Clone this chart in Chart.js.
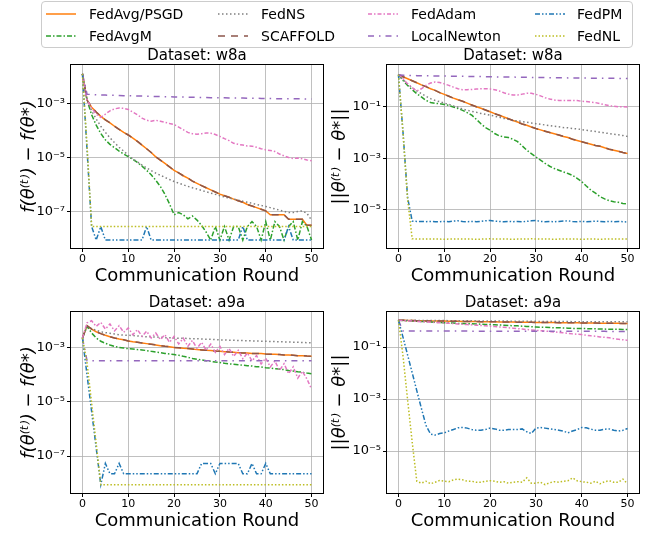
<!DOCTYPE html>
<html>
<head>
<meta charset="utf-8">
<script src="https://cdn.jsdelivr.net/npm/chart.js@4.4.0/dist/chart.umd.min.js"></script>
<style>
html,body{margin:0;padding:0;background:#fff;}
body{width:652px;height:535px;overflow:hidden;position:relative;font-family:"DejaVu Sans",sans-serif;}
canvas{position:absolute;}
#legend{position:absolute;left:41px;top:1px;width:590px;height:45px;border:1px solid #cccccc;border-radius:4px;background:rgba(255,255,255,0.85);z-index:5;}
.lg-text{position:absolute;font-size:14px;line-height:16px;color:#000;white-space:nowrap;}
.lg-line{position:absolute;}
</style>
</head>
<body>
<div id="legend"></div>
<canvas id="c1" width="330" height="250" style="left:0px;top:40px"></canvas>
<canvas id="c2" width="326" height="250" style="left:326px;top:40px"></canvas>
<canvas id="c3" width="330" height="248" style="left:0px;top:287px"></canvas>
<canvas id="c4" width="326" height="248" style="left:326px;top:287px"></canvas>
<script>
// ---------------- data ----------------
const rounds = [0,1,2,3,4,5,6,7,8,9,10,11,12,13,14,15,16,17,18,19,20,21,22,23,24,25,26,27,28,29,30,31,32,33,34,35,36,37,38,39,40,41,42,43,44,45,46,47,48,49,50];
const xTicks = [0,10,20,30,40,50];
const seriesNames = ['FedAvg/PSGD','FedAvgM','FedNS','SCAFFOLD','FedAdam','LocalNewton','FedPM','FedNL'];
const panelTitles = ['Dataset: w8a','Dataset: w8a','Dataset: a9a','Dataset: a9a'];
const xAxisTitle = 'Communication Round';
const lossAxisTitle = 'f(θ⁽ᵗ⁾) − f(θ*)';
const distAxisTitle = '||θ⁽ᵗ⁾ − θ*||';
const lossTickValues = [1e-3,1e-5,1e-7];
const lossTickLabels = ['10⁻³','10⁻⁵','10⁻⁷'];
const distTickValues = [1e-1,1e-3,1e-5];
const distTickLabels = ['10⁻¹','10⁻³','10⁻⁵'];

// Panel 1: w8a, f(theta_t) - f(theta*)
const w8aLoss_FedAvg = [1.3e-2,1.4e-3,7.6e-4,5.0e-4,3.5e-4,2.6e-4,2.0e-4,1.5e-4,1.15e-4,8.9e-5,7.1e-5,
 5.4e-5,4.1e-5,3.0e-5,2.2e-5,1.6e-5,1.1e-5,8.3e-6,6.3e-6,4.7e-6,3.5e-6,
 2.8e-6,2.2e-6,1.8e-6,1.4e-6,1.15e-6,9.5e-7,7.9e-7,6.6e-7,5.5e-7,4.6e-7,
 4.0e-7,3.5e-7,3.0e-7,2.6e-7,2.3e-7,1.9e-7,1.66e-7,1.45e-7,1.26e-7,1.1e-7,
 7.9e-8,7.9e-8,7.9e-8,7.9e-8,5.4e-8,5.4e-8,5.4e-8,5.4e-8,3.2e-8,3.2e-8];
const w8aLoss_FedAvgM = [1.3e-2,1.4e-3,4.0e-4,1.66e-4,8.1e-5,4.7e-5,3.2e-5,2.4e-5,1.8e-5,1.4e-5,1.12e-5,
 8.9e-6,6.8e-6,5.0e-6,3.5e-6,2.4e-6,1.5e-6,8.9e-7,4.5e-7,2.0e-7,7.9e-8,
 9.5e-8,7.9e-8,5.6e-8,7.1e-8,5.0e-8,3.2e-8,1.8e-8,9.1e-9,2.9e-8,9.1e-9,
 2.9e-8,9.1e-9,2.9e-8,2.9e-8,9.1e-9,2.9e-8,4.4e-8,2.9e-8,9.1e-9,4.4e-8,
 9.1e-9,4.4e-8,2.9e-8,9.1e-9,2.9e-8,4.4e-8,9.1e-9,4.4e-8,2.9e-8,9.1e-9];
const w8aLoss_FedNS = [1.3e-2,1.4e-3,5.6e-4,2.8e-4,1.5e-4,8.9e-5,5.6e-5,3.7e-5,2.5e-5,1.8e-5,1.26e-5,
 9.3e-6,7.1e-6,5.5e-6,4.3e-6,3.4e-6,2.75e-6,2.3e-6,1.9e-6,1.6e-6,1.35e-6,
 1.17e-6,1.02e-6,8.9e-7,7.9e-7,7.1e-7,6.3e-7,5.6e-7,5.0e-7,4.5e-7,4.0e-7,
 3.6e-7,3.3e-7,3.0e-7,2.75e-7,2.5e-7,2.3e-7,2.1e-7,1.9e-7,1.74e-7,1.6e-7,
 1.45e-7,1.3e-7,1.17e-7,1.05e-7,9.5e-8,9.5e-8,1.05e-7,1.1e-7,8.9e-8,5.0e-8];
const w8aLoss_SCAFFOLD = [1.3e-2,1.4e-3,7.6e-4,5.0e-4,3.5e-4,2.6e-4,2.0e-4,1.5e-4,1.15e-4,8.9e-5,7.1e-5,
 5.4e-5,4.1e-5,3.0e-5,2.2e-5,1.6e-5,1.1e-5,8.3e-6,6.3e-6,4.7e-6,3.5e-6,
 2.8e-6,2.2e-6,1.8e-6,1.4e-6,1.15e-6,9.5e-7,7.9e-7,6.6e-7,5.5e-7,4.6e-7,
 4.0e-7,3.5e-7,3.0e-7,2.6e-7,2.3e-7,1.9e-7,1.66e-7,1.45e-7,1.26e-7,1.1e-7,
 7.9e-8,7.9e-8,7.9e-8,7.9e-8,5.4e-8,5.4e-8,5.4e-8,5.4e-8,3.2e-8,3.2e-8];
const w8aLoss_FedAdam = [1.3e-2,1.4e-3,7.1e-4,4.2e-4,3.2e-4,4.2e-4,5.6e-4,6.6e-4,7.1e-4,6.9e-4,6.3e-4,
 5.0e-4,4.0e-4,3.0e-4,2.5e-4,2.3e-4,2.5e-4,2.3e-4,2.1e-4,1.9e-4,1.74e-4,
 1.4e-4,1.12e-4,8.9e-5,7.9e-5,7.6e-5,7.9e-5,8.5e-5,8.3e-5,7.4e-5,6.3e-5,
 5.2e-5,4.4e-5,3.5e-5,3.2e-5,3.0e-5,2.8e-5,2.75e-5,2.5e-5,2.2e-5,2.0e-5,
 1.9e-5,1.74e-5,1.4e-5,1.2e-5,1.05e-5,9.5e-6,1.0e-5,9.3e-6,8.5e-6,7.9e-6];
const w8aLoss_LocalNewton = [1.3e-2,2.3e-3,2.25e-3,2.2e-3,2.17e-3,2.14e-3,2.11e-3,2.08e-3,2.06e-3,2.04e-3,2.02e-3,
 2.0e-3,1.98e-3,1.96e-3,1.94e-3,1.92e-3,1.9e-3,1.88e-3,1.86e-3,1.85e-3,1.83e-3,
 1.82e-3,1.8e-3,1.79e-3,1.77e-3,1.76e-3,1.75e-3,1.73e-3,1.72e-3,1.71e-3,1.7e-3,
 1.69e-3,1.68e-3,1.67e-3,1.66e-3,1.65e-3,1.64e-3,1.63e-3,1.62e-3,1.61e-3,1.6e-3,
 1.59e-3,1.58e-3,1.58e-3,1.57e-3,1.56e-3,1.56e-3,1.55e-3,1.55e-3,1.54e-3,1.54e-3];
const w8aLoss_FedPM = [1.3e-2,2.0e-5,2.9e-8,9.1e-9,2.9e-8,9.1e-9,9.1e-9,9.1e-9,9.1e-9,9.1e-9,9.1e-9,
 9.1e-9,9.1e-9,9.1e-9,2.9e-8,9.1e-9,9.1e-9,9.1e-9,9.1e-9,9.1e-9,9.1e-9,
 9.1e-9,9.1e-9,9.1e-9,9.1e-9,9.1e-9,9.1e-9,9.1e-9,9.1e-9,9.1e-9,9.1e-9,
 9.1e-9,9.1e-9,9.1e-9,9.1e-9,2.9e-8,9.1e-9,9.1e-9,9.1e-9,9.1e-9,9.1e-9,
 9.1e-9,9.1e-9,9.1e-9,9.1e-9,2.9e-8,9.1e-9,9.1e-9,9.1e-9,9.1e-9,9.1e-9];
const w8aLoss_FedNL = [1.3e-2,3.0e-5,2.9e-8,2.9e-8,2.9e-8,2.9e-8,2.9e-8,2.9e-8,2.9e-8,2.9e-8,2.9e-8,
 2.9e-8,2.9e-8,2.9e-8,2.9e-8,2.9e-8,2.9e-8,2.9e-8,2.9e-8,2.9e-8,2.9e-8,
 2.9e-8,2.9e-8,2.9e-8,2.9e-8,2.9e-8,2.9e-8,2.9e-8,2.9e-8,2.9e-8,2.9e-8,
 2.9e-8,2.9e-8,2.9e-8,2.9e-8,2.9e-8,2.9e-8,2.9e-8,2.9e-8,2.9e-8,2.9e-8,
 2.9e-8,2.9e-8,2.9e-8,2.9e-8,2.9e-8,2.9e-8,2.9e-8,2.9e-8,2.9e-8,2.9e-8];

// Panel 2: w8a, ||theta_t - theta*||
const w8aDist_FedAvg = [1.8,1.5,1.25,1.04,0.87,0.72,0.62,0.51,0.44,0.36,0.31,
 0.26,0.22,0.19,0.166,0.141,0.12,0.102,0.089,0.076,0.065,
 0.055,0.048,0.041,0.035,0.030,0.026,0.022,0.0195,0.0166,0.0145,
 0.0129,0.0115,0.0102,0.0091,0.0081,0.0072,0.0065,0.0056,0.0050,0.0045,
 0.0040,0.0036,0.0032,0.0030,0.0026,0.0023,0.0021,0.0019,0.0017,0.00155];
const w8aDist_FedAvgM = [1.8,1.07,0.69,0.47,0.33,0.245,0.18,0.15,0.138,0.135,0.126,
 0.115,0.1,0.087,0.074,0.06,0.048,0.033,0.0224,0.0158,0.0126,
 0.0093,0.0076,0.0069,0.0065,0.0056,0.0045,0.0031,0.0021,0.00155,0.00115,
 8.7e-4,6.5e-4,5.0e-4,4.1e-4,3.5e-4,3.0e-4,2.6e-4,2.2e-4,1.7e-4,1.26e-4,
 8.5e-5,5.9e-5,4.5e-5,3.3e-5,2.7e-5,2.3e-5,2.1e-5,2.0e-5,1.8e-5,1.7e-5];
const w8aDist_FedNS = [1.8,1.15,0.79,0.56,0.42,0.33,0.26,0.21,0.18,0.16,0.14,
 0.126,0.11,0.098,0.083,0.074,0.068,0.062,0.056,0.052,0.048,
 0.044,0.040,0.036,0.033,0.030,0.029,0.027,0.0257,0.024,0.0224,
 0.0214,0.020,0.019,0.0178,0.017,0.0158,0.0155,0.0145,0.0141,0.0132,
 0.0126,0.0117,0.0112,0.0105,0.0098,0.0093,0.0087,0.0083,0.0078,0.0072];
const w8aDist_SCAFFOLD = [1.8,1.5,1.25,1.04,0.87,0.72,0.62,0.51,0.44,0.36,0.31,
 0.26,0.22,0.19,0.166,0.141,0.12,0.102,0.089,0.076,0.065,
 0.055,0.048,0.041,0.035,0.030,0.026,0.022,0.0195,0.0166,0.0145,
 0.0129,0.0115,0.0102,0.0091,0.0081,0.0072,0.0065,0.0056,0.0050,0.0045,
 0.0040,0.0036,0.0032,0.0030,0.0026,0.0023,0.0021,0.0019,0.0017,0.00155];
const w8aDist_FedAdam = [1.8,1.26,0.79,0.56,0.42,0.51,0.69,0.85,0.93,0.89,0.79,
 0.69,0.59,0.51,0.47,0.47,0.48,0.5,0.51,0.51,0.5,
 0.47,0.42,0.355,0.316,0.29,0.29,0.316,0.34,0.34,0.31,
 0.27,0.23,0.204,0.186,0.18,0.18,0.18,0.18,0.178,0.166,
 0.162,0.155,0.148,0.135,0.123,0.112,0.107,0.102,0.102,0.1];
const w8aDist_LocalNewton = [1.8,1.7,1.68,1.66,1.65,1.64,1.63,1.62,1.61,1.6,1.59,
 1.58,1.57,1.56,1.55,1.54,1.53,1.52,1.51,1.5,1.49,
 1.48,1.47,1.46,1.45,1.45,1.44,1.43,1.42,1.41,1.4,
 1.4,1.39,1.38,1.37,1.36,1.36,1.35,1.34,1.34,1.33,
 1.33,1.32,1.32,1.31,1.31,1.3,1.3,1.29,1.29,1.28];
const w8aDist_FedPM = [1.8,0.01,3.0e-5,3.7e-6,3.6e-6,3.6e-6,3.5e-6,3.6e-6,3.5e-6,3.5e-6,3.6e-6,
 3.5e-6,3.7e-6,3.8e-6,3.6e-6,3.5e-6,3.6e-6,3.5e-6,3.6e-6,3.8e-6,3.9e-6,
 3.7e-6,3.6e-6,3.5e-6,3.6e-6,3.5e-6,3.6e-6,3.5e-6,3.6e-6,3.8e-6,3.9e-6,
 3.6e-6,3.5e-6,3.6e-6,3.5e-6,3.6e-6,3.7e-6,3.8e-6,3.6e-6,3.5e-6,3.6e-6,
 3.5e-6,3.6e-6,3.7e-6,3.6e-6,3.5e-6,3.6e-6,3.5e-6,3.6e-6,3.5e-6,3.4e-6];
const w8aDist_FedNL = [1.8,0.01,2.5e-5,7.6e-7,7.5e-7,7.4e-7,7.4e-7,7.5e-7,7.4e-7,7.4e-7,7.3e-7,
 7.4e-7,7.4e-7,7.5e-7,7.4e-7,7.4e-7,7.4e-7,7.3e-7,7.4e-7,7.5e-7,7.6e-7,
 7.5e-7,7.4e-7,7.4e-7,7.4e-7,7.3e-7,7.4e-7,7.4e-7,7.5e-7,7.6e-7,7.5e-7,
 7.4e-7,7.4e-7,7.4e-7,7.3e-7,7.4e-7,7.5e-7,7.5e-7,7.4e-7,7.4e-7,7.3e-7,
 7.4e-7,7.4e-7,7.4e-7,7.3e-7,7.4e-7,7.4e-7,7.5e-7,7.4e-7,7.4e-7,7.4e-7];

// Panel 3: a9a, f(theta_t) - f(theta*)
const a9aLoss_FedAvg = [2.35e-3,6.7e-3,5.0e-3,4.0e-3,3.4e-3,2.95e-3,2.6e-3,2.35e-3,2.15e-3,2.0e-3,1.8e-3,
 1.7e-3,1.62e-3,1.53e-3,1.45e-3,1.37e-3,1.3e-3,1.22e-3,1.15e-3,1.12e-3,1.05e-3,
 1.03e-3,9.7e-4,9.5e-4,9.2e-4,8.7e-4,8.5e-4,8.2e-4,8.0e-4,7.7e-4,7.5e-4,
 7.3e-4,7.1e-4,6.9e-4,6.7e-4,6.5e-4,6.5e-4,6.3e-4,6.2e-4,6.2e-4,6.0e-4,
 5.9e-4,5.9e-4,5.7e-4,5.5e-4,5.5e-4,5.4e-4,5.2e-4,5.2e-4,5.0e-4,4.9e-4];
const a9aLoss_FedAvgM = [2.35e-3,6.3e-3,3.6e-3,2.35e-3,1.77e-3,1.49e-3,1.29e-3,1.15e-3,1.05e-3,1.0e-3,9.4e-4,
 9.2e-4,8.7e-4,8.5e-4,8.0e-4,7.5e-4,7.1e-4,6.7e-4,6.3e-4,6.0e-4,5.7e-4,
 5.4e-4,4.9e-4,4.5e-4,4.1e-4,3.8e-4,3.6e-4,3.4e-4,3.2e-4,3.0e-4,2.9e-4,
 2.7e-4,2.6e-4,2.5e-4,2.4e-4,2.3e-4,2.2e-4,2.15e-4,2.0e-4,2.0e-4,1.87e-4,
 1.8e-4,1.7e-4,1.66e-4,1.58e-4,1.48e-4,1.4e-4,1.32e-4,1.26e-4,1.18e-4,1.12e-4];
const a9aLoss_FedNS = [2.35e-3,6.3e-3,5.2e-3,4.5e-3,4.0e-3,3.7e-3,3.5e-3,3.3e-3,3.1e-3,3.0e-3,2.95e-3,
 2.9e-3,2.8e-3,2.7e-3,2.6e-3,2.6e-3,2.55e-3,2.5e-3,2.4e-3,2.4e-3,2.35e-3,
 2.3e-3,2.3e-3,2.25e-3,2.2e-3,2.2e-3,2.15e-3,2.1e-3,2.1e-3,2.05e-3,2.0e-3,
 1.98e-3,1.95e-3,1.93e-3,1.9e-3,1.88e-3,1.85e-3,1.83e-3,1.81e-3,1.79e-3,1.77e-3,
 1.75e-3,1.72e-3,1.7e-3,1.68e-3,1.66e-3,1.64e-3,1.62e-3,1.6e-3,1.57e-3,1.55e-3];
const a9aLoss_SCAFFOLD = [2.35e-3,6.7e-3,5.0e-3,4.0e-3,3.4e-3,2.95e-3,2.6e-3,2.35e-3,2.15e-3,2.0e-3,1.8e-3,
 1.7e-3,1.62e-3,1.53e-3,1.45e-3,1.37e-3,1.3e-3,1.22e-3,1.15e-3,1.12e-3,1.05e-3,
 1.03e-3,9.7e-4,9.5e-4,9.2e-4,8.7e-4,8.5e-4,8.2e-4,8.0e-4,7.7e-4,7.5e-4,
 7.3e-4,7.1e-4,6.9e-4,6.7e-4,6.5e-4,6.5e-4,6.3e-4,6.2e-4,6.2e-4,6.0e-4,
 5.9e-4,5.9e-4,5.7e-4,5.5e-4,5.5e-4,5.4e-4,5.2e-4,5.2e-4,5.0e-4,4.9e-4];
const a9aLoss_FedAdam = [2.35e-3,8.5e-3,1.02e-2,6.3e-3,8.9e-3,5.0e-3,7.7e-3,4.3e-3,6.7e-3,3.8e-3,5.5e-3,
 3.1e-3,4.8e-3,2.7e-3,4.2e-3,2.35e-3,3.6e-3,2.05e-3,3.1e-3,1.62e-3,2.7e-3,
 1.4e-3,2.3e-3,1.15e-3,1.9e-3,9.7e-4,1.62e-3,8.2e-4,1.4e-3,6.9e-4,1.15e-3,
 5.7e-4,9.7e-4,4.9e-4,8.2e-4,4.0e-4,6.5e-4,3.3e-4,5.2e-4,2.55e-4,4.2e-4,
 2.0e-4,3.3e-4,1.48e-4,2.6e-4,1.12e-4,2.0e-4,7.7e-5,1.37e-4,7.1e-5,3.0e-5];
const a9aLoss_LocalNewton = [2.35e-3,3.4e-4,3.4e-4,3.4e-4,3.4e-4,3.4e-4,3.4e-4,3.4e-4,3.4e-4,3.4e-4,3.4e-4,
 3.4e-4,3.4e-4,3.4e-4,3.4e-4,3.4e-4,3.4e-4,3.4e-4,3.4e-4,3.4e-4,3.4e-4,
 3.4e-4,3.4e-4,3.4e-4,3.4e-4,3.4e-4,3.4e-4,3.4e-4,3.4e-4,3.4e-4,3.4e-4,
 3.4e-4,3.4e-4,3.4e-4,3.4e-4,3.4e-4,3.4e-4,3.4e-4,3.4e-4,3.4e-4,3.4e-4,
 3.4e-4,3.4e-4,3.4e-4,3.4e-4,3.4e-4,3.4e-4,3.4e-4,3.4e-4,3.4e-4,3.4e-4];
const a9aLoss_FedPM = [2.35e-3,1.0e-4,4.5e-6,2.0e-7,8.7e-9,5.3e-8,2.2e-8,2.2e-8,5.3e-8,2.2e-8,2.2e-8,
 2.2e-8,2.2e-8,2.2e-8,2.2e-8,2.2e-8,2.2e-8,2.2e-8,2.2e-8,2.2e-8,2.2e-8,
 2.2e-8,2.2e-8,2.2e-8,2.2e-8,2.2e-8,5.3e-8,5.3e-8,5.3e-8,2.2e-8,5.3e-8,
 5.3e-8,5.3e-8,5.3e-8,5.3e-8,2.2e-8,2.2e-8,5.3e-8,2.2e-8,2.2e-8,5.3e-8,
 2.2e-8,2.2e-8,2.2e-8,2.2e-8,2.2e-8,2.2e-8,2.2e-8,2.2e-8,2.2e-8,2.2e-8];
const a9aLoss_FedNL = [2.35e-3,2.8e-4,9.1e-6,2.9e-7,8.7e-9,8.7e-9,8.7e-9,8.7e-9,8.7e-9,8.7e-9,8.7e-9,
 8.7e-9,8.7e-9,8.7e-9,8.7e-9,8.7e-9,8.7e-9,8.7e-9,8.7e-9,8.7e-9,8.7e-9,
 8.7e-9,8.7e-9,8.7e-9,8.7e-9,8.7e-9,8.7e-9,8.7e-9,8.7e-9,8.7e-9,8.7e-9,
 8.7e-9,8.7e-9,8.7e-9,8.7e-9,8.7e-9,8.7e-9,8.7e-9,8.7e-9,8.7e-9,8.7e-9,
 8.7e-9,8.7e-9,8.7e-9,8.7e-9,8.7e-9,8.7e-9,8.7e-9,8.7e-9,8.7e-9,8.7e-9];

// Panel 4: a9a, ||theta_t - theta*||
const a9aDist_FedAvg = [1.07,1.06,1.05,1.04,1.03,1.02,1.01,1.0,1.0,0.99,0.99,
 0.98,0.975,0.97,0.965,0.96,0.955,0.95,0.945,0.94,0.935,
 0.93,0.925,0.92,0.915,0.91,0.905,0.9,0.895,0.89,0.885,
 0.88,0.876,0.872,0.868,0.864,0.86,0.856,0.852,0.848,0.844,
 0.84,0.836,0.832,0.828,0.824,0.82,0.816,0.812,0.806,0.8];
const a9aDist_FedAvgM = [1.07,1.04,1.02,1.0,0.98,0.96,0.94,0.92,0.9,0.87,0.85,
 0.84,0.83,0.81,0.8,0.79,0.78,0.77,0.75,0.74,0.73,
 0.72,0.7,0.69,0.67,0.66,0.65,0.63,0.62,0.6,0.59,
 0.58,0.57,0.56,0.55,0.55,0.54,0.53,0.52,0.52,0.51,
 0.51,0.5,0.5,0.49,0.49,0.48,0.48,0.48,0.47,0.47];
const a9aDist_FedNS = [1.07,1.07,1.06,1.06,1.06,1.05,1.05,1.05,1.04,1.04,1.04,
 1.03,1.03,1.03,1.02,1.02,1.02,1.01,1.01,1.01,1.0,
 1.0,0.995,0.99,0.99,0.985,0.98,0.98,0.975,0.97,0.97,
 0.965,0.96,0.96,0.955,0.955,0.95,0.95,0.945,0.945,0.94,
 0.94,0.94,0.935,0.935,0.935,0.93,0.93,0.93,0.93,0.93];
const a9aDist_SCAFFOLD = [1.07,1.06,1.05,1.04,1.03,1.02,1.01,1.0,1.0,0.99,0.99,
 0.98,0.975,0.97,0.965,0.96,0.955,0.95,0.945,0.94,0.935,
 0.93,0.925,0.92,0.915,0.91,0.905,0.9,0.895,0.89,0.885,
 0.88,0.876,0.872,0.868,0.864,0.86,0.856,0.852,0.848,0.844,
 0.84,0.836,0.832,0.828,0.824,0.82,0.816,0.812,0.806,0.8];
const a9aDist_FedAdam = [1.07,1.04,1.01,0.99,0.96,0.94,0.92,0.9,0.88,0.86,0.84,
 0.82,0.8,0.77,0.75,0.73,0.71,0.69,0.67,0.65,0.63,
 0.61,0.59,0.57,0.55,0.53,0.51,0.49,0.47,0.455,0.44,
 0.425,0.41,0.395,0.38,0.365,0.35,0.335,0.32,0.31,0.3,
 0.285,0.27,0.26,0.245,0.235,0.225,0.21,0.2,0.19,0.18];
const a9aDist_LocalNewton = [1.07,0.41,0.41,0.41,0.41,0.41,0.41,0.41,0.41,0.41,0.41,
 0.41,0.41,0.41,0.41,0.41,0.405,0.405,0.405,0.405,0.405,
 0.405,0.405,0.405,0.405,0.405,0.405,0.405,0.405,0.405,0.405,
 0.4,0.4,0.4,0.4,0.4,0.4,0.4,0.4,0.4,0.4,
 0.4,0.4,0.4,0.4,0.4,0.395,0.395,0.395,0.395,0.395];
const a9aDist_FedPM = [1.07,0.235,0.049,0.0102,0.0021,4.4e-4,9.8e-5,4.5e-5,4.1e-5,4.7e-5,5.0e-5,
 5.9e-5,6.7e-5,7.8e-5,8.0e-5,7.6e-5,6.7e-5,6.3e-5,6.3e-5,6.7e-5,7.6e-5,
 7.1e-5,6.3e-5,6.3e-5,6.7e-5,6.7e-5,6.7e-5,7.1e-5,5.5e-5,4.7e-5,7.6e-5,
 8.0e-5,7.6e-5,7.1e-5,6.7e-5,6.3e-5,5.8e-5,5.0e-5,5.9e-5,6.7e-5,8.0e-5,
 7.8e-5,6.9e-5,6.3e-5,6.3e-5,6.9e-5,7.1e-5,6.3e-5,5.8e-5,6.3e-5,7.3e-5];
const a9aDist_FedNL = [1.07,0.044,9.1e-4,2.2e-5,6.9e-7,5.8e-7,6.9e-7,5.5e-7,6.3e-7,7.4e-7,6.9e-7,
 6.6e-7,7.8e-7,8.3e-7,7.8e-7,6.9e-7,6.9e-7,6.3e-7,6.3e-7,6.9e-7,7.2e-7,
 6.9e-7,6.3e-7,6.6e-7,5.8e-7,6.3e-7,6.6e-7,6.3e-7,9.3e-7,5.8e-7,5.8e-7,
 6.3e-7,5.1e-7,6.0e-7,6.6e-7,6.3e-7,6.9e-7,7.2e-7,9.3e-7,7.2e-7,6.6e-7,
 6.3e-7,5.8e-7,6.9e-7,5.5e-7,6.6e-7,7.2e-7,6.3e-7,6.3e-7,8.3e-7,5.5e-7];

// ---------------- styles ----------------
const seriesColors = ['#ff7f0e','#2ca02c','#7f7f7f','#8c564b','#e377c2','#9467bd','#1f77b4','#bcbd22'];
const seriesDashes = [[], [5,2,1.5,2], [1.5,2.5], [7,6], [4,2,1.5,2], [6,5,1.5,5], [5,2,1.5,2,1.5,2], [1.5,2]];
const FONT = 'DejaVu Sans';

// ---------------- legend (HTML) ----------------
(function buildLegend(){
  const lg = document.getElementById('legend');
  const lineX = [4, 176, 326, 493];
  const textX = [47, 219, 369, 535];
  const rowY = [12, 34];
  seriesNames.forEach((name, i) => {
    const col = Math.floor(i / 2), row = i % 2;
    const ns = 'http://www.w3.org/2000/svg';
    const svg = document.createElementNS(ns, 'svg');
    svg.setAttribute('width', '30'); svg.setAttribute('height', '6');
    svg.setAttribute('class', 'lg-line');
    svg.style.left = lineX[col] + 'px'; svg.style.top = (rowY[row] - 3) + 'px';
    const ln = document.createElementNS(ns, 'line');
    ln.setAttribute('x1', '0'); ln.setAttribute('y1', '3'); ln.setAttribute('x2', '30'); ln.setAttribute('y2', '3');
    ln.setAttribute('stroke', seriesColors[i]); ln.setAttribute('stroke-width', '1.5');
    if (seriesDashes[i].length) ln.setAttribute('stroke-dasharray', seriesDashes[i].join(' '));
    svg.appendChild(ln); lg.appendChild(svg);
    const t = document.createElement('div');
    t.className = 'lg-text'; t.textContent = name;
    t.style.left = textX[col] + 'px'; t.style.top = (rowY[row] - 8) + 'px';
    lg.appendChild(t);
  });
})();

// ---------------- charts ----------------
const framePlugin = {
  id: 'frame',
  afterDatasetsDraw(chart) {
    const {ctx, chartArea: a} = chart;
    ctx.save();
    ctx.strokeStyle = '#000';
    ctx.lineWidth = 1;
    ctx.strokeRect(Math.round(a.left) - 0.5, Math.round(a.top) - 0.5, Math.round(a.right - a.left) + 1, Math.round(a.bottom - a.top) + 1);
    ctx.restore();
  }
};

function makePanel(id, series, title, yTitle, yMin, yMax, tickVals, tickLabels, yWidth, padRight, yTitlePad) {
  const datasets = series.map((vals, i) => ({
    label: seriesNames[i],
    data: rounds.map((r, j) => ({x: r, y: vals[j]})),
    borderColor: seriesColors[i],
    backgroundColor: seriesColors[i],
    borderWidth: 1.5,
    borderDash: seriesDashes[i],
    pointRadius: 0,
    fill: false,
    tension: 0,
    order: -i
  }));
  return new Chart(document.getElementById(id), {
    type: 'line',
    data: {datasets},
    options: {
      responsive: false,
      animation: false,
      devicePixelRatio: 1,
      layout: {padding: {left: 0, right: padRight, top: 0, bottom: 0}},
      plugins: {
        legend: {display: false},
        tooltip: {enabled: false},
        title: {display: true, text: title, color: '#000', fullSize: false,
          font: {family: FONT, size: 15, weight: 'normal', lineHeight: 1.2},
          padding: {top: 7, bottom: 0}}
      },
      scales: {
        x: {
          type: 'linear', min: -2.5, max: 52.5,
          afterBuildTicks: s => { s.ticks = xTicks.map(v => ({value: v})); },
          afterFit: s => { s.height = 42; },
          ticks: {autoSkip: false, maxRotation: 0, color: '#000', padding: 1,
            font: {family: FONT, size: 11}, callback: v => String(v)},
          grid: {color: '#b0b0b0', lineWidth: 0.8, tickColor: '#000', tickLength: 4, tickWidth: 1},
          border: {display: false},
          title: {display: true, text: xAxisTitle, color: '#000',
            font: {family: FONT, size: 18, lineHeight: 1.2}, padding: {top: 0, bottom: 3}}
        },
        y: {
          type: 'logarithmic', min: yMin, max: yMax,
          afterBuildTicks: s => { s.ticks = tickVals.map(v => ({value: v})); },
          afterFit: s => { s.width = yWidth; },
          ticks: {autoSkip: false, color: '#000', padding: 2,
            font: {family: FONT, size: 13}, callback: (v, i) => tickLabels[i]},
          grid: {color: '#b0b0b0', lineWidth: 0.8, tickColor: '#000', tickLength: 4, tickWidth: 1},
          border: {display: false},
          title: {display: true, text: yTitle, color: '#000',
            font: {family: FONT, size: 18, style: 'italic', lineHeight: 1.2}, padding: {top: yTitlePad, bottom: 0}}
        }
      }
    },
    plugins: [framePlugin]
  });
}

makePanel('c1',
  [w8aLoss_FedAvg, w8aLoss_FedAvgM, w8aLoss_FedNS, w8aLoss_SCAFFOLD, w8aLoss_FedAdam, w8aLoss_LocalNewton, w8aLoss_FedPM, w8aLoss_FedNL],
  panelTitles[0], lossAxisTitle, 4.64e-9, 2.78e-2, lossTickValues, lossTickLabels, 71, 7, 19);
makePanel('c2',
  [w8aDist_FedAvg, w8aDist_FedAvgM, w8aDist_FedNS, w8aDist_SCAFFOLD, w8aDist_FedAdam, w8aDist_LocalNewton, w8aDist_FedPM, w8aDist_FedNL],
  panelTitles[1], distAxisTitle, 3.34e-7, 4.27, distTickValues, distTickLabels, 61, 13, 4);
makePanel('c3',
  [a9aLoss_FedAvg, a9aLoss_FedAvgM, a9aLoss_FedNS, a9aLoss_SCAFFOLD, a9aLoss_FedAdam, a9aLoss_LocalNewton, a9aLoss_FedPM, a9aLoss_FedNL],
  panelTitles[2], lossAxisTitle, 4.27e-9, 2.15e-2, lossTickValues, lossTickLabels, 71, 7, 19);
makePanel('c4',
  [a9aDist_FedAvg, a9aDist_FedAvgM, a9aDist_FedNS, a9aDist_SCAFFOLD, a9aDist_FedAdam, a9aDist_LocalNewton, a9aDist_FedPM, a9aDist_FedNL],
  panelTitles[3], distAxisTitle, 2.43e-7, 2.22, distTickValues, distTickLabels, 61, 13, 4);
</script>
</body>
</html>
